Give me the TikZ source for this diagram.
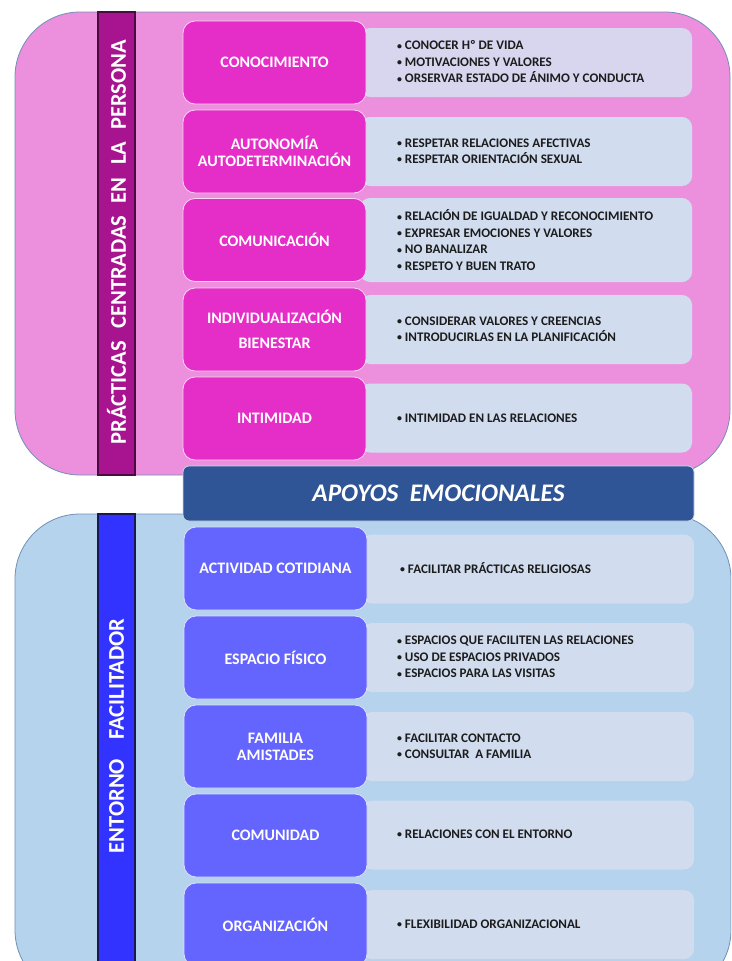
\documentclass[tikz,border=0pt]{standalone}
\usepackage{fontspec}
\usepackage{graphicx}
\setmainfont{Carlito}
\definecolor{pinkbg}{HTML}{EC90DE}
\definecolor{pinkband}{HTML}{A8148F}
\definecolor{pinkbandline}{HTML}{4A0C3E}
\definecolor{magbox}{HTML}{E52EC8}
\definecolor{lavbox}{HTML}{D8D5EE}
\definecolor{paleblue}{HTML}{D1DDEF}
\definecolor{navy}{HTML}{2F5597}
\definecolor{bluebg}{HTML}{B5D3EC}
\definecolor{blueband}{HTML}{3333FF}
\definecolor{bluebandline}{HTML}{1A1A50}
\definecolor{violetbox}{HTML}{6464FF}
\definecolor{panelline}{HTML}{6F8FB6}
\definecolor{itemtext}{HTML}{1C1C1C}
% small list bullet
\newcommand\bul{\raisebox{0.08ex}{\scalebox{0.75}{•}}\hspace{0.22em}}
\begin{document}
\begin{tikzpicture}[x=1pt,y=-1pt,
  panel/.style={draw=panelline, line width=0.8pt, rounded corners=65pt},
  band/.style={rotate=90, minimum width=#1, minimum height=37pt, inner sep=0pt,
    line width=1.2pt, text=white, font=\bfseries\fontsize{22.5}{26}\selectfont},
  leftbox/.style={minimum width=183pt, minimum height=83pt, inner sep=0pt,
    rounded corners=12pt, line width=0.8pt, align=center, text=white,
    font=\bfseries\fontsize{16}{17}\selectfont},
  toplbox/.style={leftbox, fill=magbox, draw=white!80!magbox},
  botlbox/.style={leftbox, fill=violetbox, draw=white!80!violetbox},
  rightbox/.style={minimum width=332pt, minimum height=#1, inner sep=0pt,
    rounded corners=10pt, fill=paleblue},
  items/.style={anchor=west, align=left, inner sep=0pt, text=itemtext,
    font=\bfseries\fontsize{13.1}{16.5}\selectfont},
  banner/.style={minimum width=511pt, minimum height=55pt, inner sep=0pt,
    rounded corners=6pt, fill=navy, draw=white!75!navy, line width=0.8pt,
    text=white, font=\bfseries\itshape\fontsize{25.3}{28}\selectfont}]
\useasboundingbox (0,0) rectangle (731,961);
\clip (0,0) rectangle (731,961);

% background panels
\draw[panel, fill=pinkbg] (15,12) rectangle (730,475);
\draw[panel, fill=bluebg] (15,514) rectangle (731,995);

% vertical title bands
\draw[fill=pinkband, draw=pinkbandline, line width=1.2pt] (98,12) rectangle (135,475);
\draw[fill=blueband, draw=bluebandline, line width=1.2pt] (98,514) rectangle (135,995);
\node[band=10pt] (bandtop) at (116.5,242)
  {PRÁCTICAS\hspace{0.55em}CENTRADAS\hspace{0.55em}EN\hspace{0.55em}LA\hspace{0.55em}PERSONA};
\node[band=10pt] (bandbot) at (116.5,736)
  {ENTORNO\hspace{0.85em}FACILITADOR};

% ---- upper block: person-centred practices ----
\node[rightbox=69pt, fill=lavbox] (r1) at (526,62.5) {};
\node[rightbox=69pt] (r2) at (526,151.5) {};
\node[rightbox=84pt] (r3) at (526,240) {};
\node[rightbox=69pt] (r4) at (526,329.5) {};
\node[rightbox=69pt] (r5) at (526,418) {};

\node[toplbox] (l1) at (274.5,62.5) {CONOCIMIENTO};
\node[toplbox] (l2) at (274.5,151.5) {AUTONOMÍA\\AUTODETERMINACIÓN};
\node[toplbox] (l3) at (274.5,240) {COMUNICACIÓN};
\node[toplbox] (l4) at (274.5,329.5) {INDIVIDUALIZACIÓN\\[8pt]BIENESTAR};
\node[toplbox] (l5) at (274.5,418.5) {INTIMIDAD};

\node[items] (t1) at (397,62) {\bul CONOCER Hº DE VIDA\\\bul MOTIVACIONES Y VALORES\\\bul ORSERVAR ESTADO DE ÁNIMO Y CONDUCTA};
\node[items] (t2) at (397,151) {\bul RESPETAR RELACIONES AFECTIVAS\\\bul RESPETAR ORIENTACIÓN SEXUAL};
\node[items] (t3) at (397,240) {\bul RELACIÓN DE IGUALDAD Y RECONOCIMIENTO\\\bul EXPRESAR EMOCIONES Y VALORES\\\bul NO BANALIZAR\\\bul RESPETO Y BUEN TRATO};
\node[items] (t4) at (397,329) {\bul CONSIDERAR VALORES Y CREENCIAS\\\bul INTRODUCIRLAS EN LA PLANIFICACIÓN};
\node[items] (t5) at (397,418) {\bul INTIMIDAD EN LAS RELACIONES};

% ---- central banner ----
\node[banner] (apoyos) at (438.5,493.5) {APOYOS\ \ EMOCIONALES};

% ---- lower block: enabling environment ----
\node[rightbox=69pt] (s1) at (528,569) {};
\node[rightbox=69pt] (s2) at (528,657.5) {};
\node[rightbox=69pt] (s3) at (528,746.5) {};
\node[rightbox=69pt] (s4) at (528,835) {};
\node[rightbox=69pt] (s5) at (528,924.5) {};

\node[botlbox] (b1) at (275.5,568.5) {ACTIVIDAD COTIDIANA};
\node[botlbox] (b2) at (275.5,657.5) {ESPACIO FÍSICO};
\node[botlbox] (b3) at (275.5,746.5) {FAMILIA\\AMISTADES};
\node[botlbox] (b4) at (275.5,835.5) {COMUNIDAD};
\node[botlbox] (b5) at (275.5,924.5) {ORGANIZACIÓN};

\node[items] (u1) at (400,568) {\bul FACILITAR PRÁCTICAS RELIGIOSAS};
\node[items] (u2) at (397,657) {\bul ESPACIOS QUE FACILITEN LAS RELACIONES\\\bul USO DE ESPACIOS PRIVADOS\\\bul ESPACIOS PARA LAS VISITAS};
\node[items] (u3) at (397,746) {\bul FACILITAR CONTACTO\\\bul CONSULTAR\ \ A FAMILIA};
\node[items] (u4) at (397,834) {\bul RELACIONES CON EL ENTORNO};
\node[items] (u5) at (397,924) {\bul FLEXIBILIDAD ORGANIZACIONAL};
\end{tikzpicture}
\end{document}
